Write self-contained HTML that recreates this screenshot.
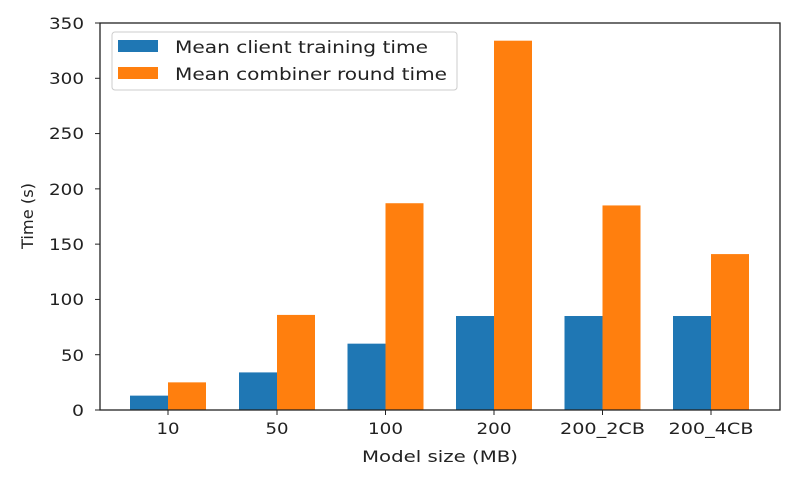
<!DOCTYPE html>
<html><head><style>body{margin:0;background:#fff}</style></head><body>
<svg width="787" height="476" xmlns="http://www.w3.org/2000/svg" font-family="DejaVu Sans, Liberation Sans, sans-serif" fill="#222">
<g fill="#1f77b4">
<rect x="130" y="395.63" width="38" height="14.37"/>
<rect x="239" y="372.41" width="38" height="37.59"/>
<rect x="347.5" y="343.66" width="38" height="66.34"/>
<rect x="456" y="316.01" width="38" height="93.99"/>
<rect x="564.5" y="316.01" width="38" height="93.99"/>
<rect x="673" y="316.01" width="38" height="93.99"/>
</g>
<g fill="#ff7f0e">
<rect x="168" y="382.36" width="38" height="27.64"/>
<rect x="277" y="314.91" width="38" height="95.09"/>
<rect x="385.5" y="203.23" width="38" height="206.77"/>
<rect x="494" y="40.69" width="38" height="369.31"/>
<rect x="602.5" y="205.44" width="38" height="204.56"/>
<rect x="711" y="254.09" width="38" height="155.91"/>
</g>
<g stroke="#222">
<line x1="168" y1="410" x2="168" y2="415"/><line x1="277" y1="410" x2="277" y2="415"/><line x1="385.5" y1="410" x2="385.5" y2="415"/><line x1="494" y1="410" x2="494" y2="415"/><line x1="602.5" y1="410" x2="602.5" y2="415"/><line x1="711" y1="410" x2="711" y2="415"/>
<line x1="95" y1="410" x2="100" y2="410"/><line x1="95" y1="354.71" x2="100" y2="354.71"/><line x1="95" y1="299.43" x2="100" y2="299.43"/><line x1="95" y1="244.14" x2="100" y2="244.14"/><line x1="95" y1="188.86" x2="100" y2="188.86"/><line x1="95" y1="133.57" x2="100" y2="133.57"/><line x1="95" y1="78.29" x2="100" y2="78.29"/><line x1="95" y1="23" x2="100" y2="23"/>
</g>
<g font-size="16" text-anchor="middle" lengthAdjust="spacingAndGlyphs">
<text x="168" y="434" textLength="23" lengthAdjust="spacingAndGlyphs">10</text><text x="277" y="434" textLength="23" lengthAdjust="spacingAndGlyphs">50</text><text x="385.5" y="434" textLength="35" lengthAdjust="spacingAndGlyphs">100</text><text x="494" y="434" textLength="35" lengthAdjust="spacingAndGlyphs">200</text><text x="602.5" y="434" textLength="85" lengthAdjust="spacingAndGlyphs">200_2CB</text><text x="711" y="434" textLength="85" lengthAdjust="spacingAndGlyphs">200_4CB</text>
</g>
<g font-size="16" text-anchor="end">
<text x="84" y="416" textLength="12" lengthAdjust="spacingAndGlyphs">0</text><text x="84" y="361" textLength="23" lengthAdjust="spacingAndGlyphs">50</text><text x="84" y="305" textLength="35" lengthAdjust="spacingAndGlyphs">100</text><text x="84" y="250" textLength="35" lengthAdjust="spacingAndGlyphs">150</text><text x="84" y="195" textLength="35" lengthAdjust="spacingAndGlyphs">200</text><text x="84" y="139" textLength="35" lengthAdjust="spacingAndGlyphs">250</text><text x="84" y="84" textLength="35" lengthAdjust="spacingAndGlyphs">300</text><text x="84" y="29" textLength="35" lengthAdjust="spacingAndGlyphs">350</text>
</g>
<rect x="100" y="23" width="680" height="387" fill="none" stroke="#222" stroke-width="1.3"/>
<text x="440" y="462" font-size="16" text-anchor="middle" textLength="156" lengthAdjust="spacingAndGlyphs">Model size (MB)</text>
<text transform="translate(33,216) rotate(-90)" font-size="16" text-anchor="middle" textLength="66" lengthAdjust="spacingAndGlyphs">Time (s)</text>
<rect x="112" y="32" width="345" height="58" rx="3" fill="#fff" stroke="#ccc"/>
<rect x="118" y="40" width="40" height="12" fill="#1f77b4"/>
<rect x="118" y="67" width="40" height="12" fill="#ff7f0e"/>
<text x="175" y="53" font-size="16.5" textLength="253" lengthAdjust="spacingAndGlyphs">Mean client training time</text>
<text x="175" y="80" font-size="16.5" textLength="272" lengthAdjust="spacingAndGlyphs">Mean combiner round time</text>
</svg>
</body></html>
